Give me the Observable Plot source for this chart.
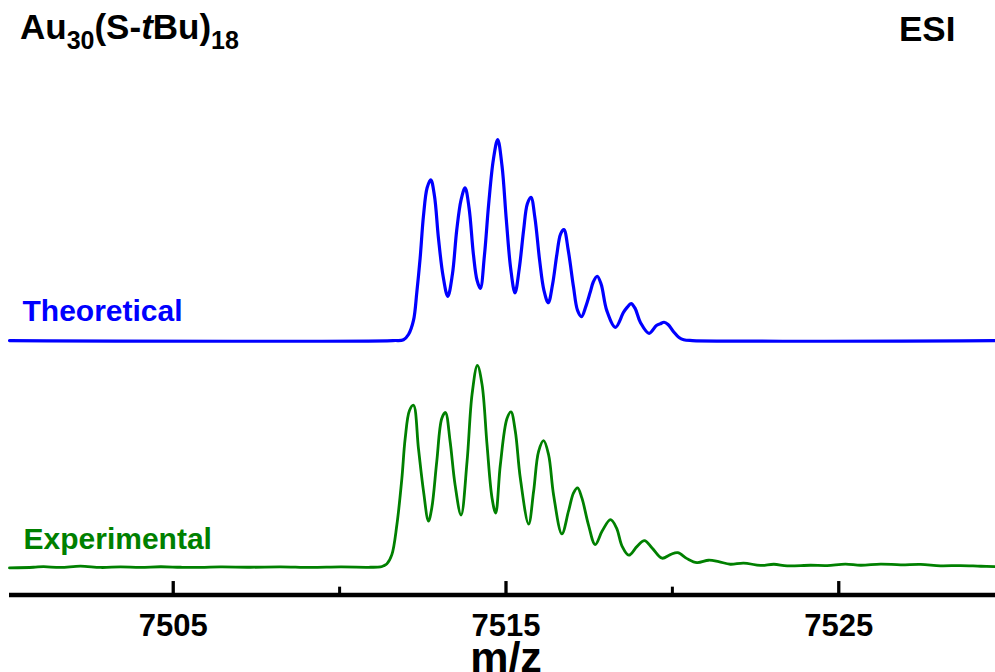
<!DOCTYPE html>
<html><head><meta charset="utf-8">
<script src="https://cdn.jsdelivr.net/npm/d3@7"></script>
<script src="https://cdn.jsdelivr.net/npm/@observablehq/plot@0.6"></script>
<style>
html,body{margin:0;padding:0;background:#fff;overflow:hidden}
#chart svg{display:block}
</style></head><body><div id="chart"></div>
<script>
// Theoretical isotope pattern (m/z, relative intensity)
const theoMz = [7500.08,7511.6,7511.92,7512.07,7512.22,7512.32,7512.42,7512.52,7512.63,7512.74,7512.85,7512.97,7513.11,7513.25,7513.39,7513.52,7513.65,7513.77,7513.89,7514.02,7514.13,7514.23,7514.35,7514.48,7514.62,7514.75,7514.88,7515.01,7515.14,7515.27,7515.40,7515.53,7515.64,7515.75,7515.87,7516.01,7516.14,7516.27,7516.40,7516.53,7516.64,7516.74,7516.87,7517.03,7517.15,7517.27,7517.40,7517.53,7517.62,7517.74,7517.86,7518.03,7518.29,7518.53,7518.64,7518.76,7518.88,7519.04,7519.30,7519.52,7519.63,7519.75,7519.87,7520.03,7520.20,7520.34,7520.6,7529.71];
const theoIntensity = [0,0,0.4,3,10,24,41,62,76,80,72,51,32,22,33,55,70,76,66,43,30,26,42,68,90,100,87,60,36,23.7,36,55,68,71.3,61,40,25,18.8,28,43,53,55.2,45,26.5,15,11.9,17,24,29,32,28,14.9,6.6,14,16.5,18.4,16,9,3.6,7.5,8.3,9.1,8,4.5,1.5,0.4,0,0];

// Experimental spectrum (m/z, relative intensity)
const expMz = [7500.08,7500.80,7501.10,7501.61,7502.21,7502.82,7503.42,7504.02,7504.62,7505.22,7505.82,7506.42,7507.32,7508.23,7509.13,7510.03,7510.93,7511.23,7511.33,7511.42,7511.57,7511.72,7511.87,7511.97,7512.10,7512.22,7512.37,7512.52,7512.67,7512.77,7512.92,7513.07,7513.18,7513.32,7513.47,7513.65,7513.83,7513.98,7514.14,7514.28,7514.43,7514.58,7514.69,7514.83,7515.03,7515.15,7515.28,7515.43,7515.68,7515.83,7515.98,7516.13,7516.28,7516.43,7516.68,7516.88,7517.03,7517.15,7517.28,7517.48,7517.68,7517.89,7518.14,7518.32,7518.49,7518.69,7518.94,7519.16,7519.39,7519.69,7519.94,7520.16,7520.44,7520.74,7521.09,7521.39,7521.74,7522.14,7522.65,7523.05,7523.45,7524.15,7524.65,7525.2,7525.66,7526.26,7526.86,7527.46,7528.06,7528.66,7529.27,7529.71];
const expIntensity = [-0.3,0,0.3,-0.1,0.6,-0.1,0.15,-0.1,0.25,0,-0.1,0.15,0,0.2,-0.1,0.15,0,0.2,0.8,1.7,6.3,21,44,64,78,80.6,59,38,23,29.5,52.7,74,77,62.7,41,26,52.7,86,100.5,91,61,34.5,27,51,74,77.3,67.7,44.4,21.5,37.8,57.7,63,56,36,16.6,28,37,39.5,34.5,21,11.3,18,23.7,19.6,10.4,6,10.4,13.3,9.6,4.5,6.3,7.3,4.3,2.3,3.5,2.8,1.5,2.1,0.9,1.5,0.7,1.0,0.85,1.6,1.0,1.6,1.2,1.4,0.7,0.85,0.5,0.35];

const majorTicks = [7505, 7515, 7525];
const minorTicks = [7510, 7520];
const seriesLabels = ["Theoretical", "Experimental"];
const axisLabel = "m/z";

// vertical stacking offsets (layout)
const theoOffset = 126.6, expOffset = 13.8;
const theo = theoMz.map((mz, i) => ({mz, y: theoIntensity[i] + theoOffset}));
const expt = expMz.map((mz, i) => ({mz, y: expIntensity[i] + expOffset}));

const font = "'Liberation Sans', Arial, Helvetica, sans-serif";
const blue = "#0000ff", green = "#008000";

const chart = Plot.plot({
  width: 995, height: 672,
  marginLeft: 9, marginRight: 0, marginTop: 0, marginBottom: 77.5,
  x: {domain: [7500.08, 7529.71], axis: null},
  y: {domain: [0, 295.8], axis: null},
  style: {fontFamily: font, background: "white"},
  marks: [
    Plot.line(theo, {x: "mz", y: "y", stroke: blue, strokeWidth: 3.2, curve: "catmull-rom"}),
    Plot.line(expt, {x: "mz", y: "y", stroke: green, strokeWidth: 2.8, curve: "catmull-rom"}),
    Plot.ruleY([0], {stroke: "black", strokeWidth: 4.5}),
    Plot.ruleX(majorTicks, {y1: 0, y2: 6.7, stroke: "black", strokeWidth: 3.3}),
    Plot.ruleX(minorTicks, {y1: 0, y2: 3.9, stroke: "black", strokeWidth: 3}),
    Plot.text(majorTicks, {x: d => d, text: d => String(d), frameAnchor: "bottom", dy: 40.5, lineAnchor: "bottom", fontSize: 31, fontWeight: "bold", fill: "black"}),
    Plot.text([axisLabel], {text: d => d, frameAnchor: "bottom", dx: 3.5, dy: 77, lineAnchor: "bottom", fontSize: 43, fontWeight: "bold", fill: "black"}),
    Plot.text([seriesLabels[0]], {text: d => d, frameAnchor: "top-left", textAnchor: "start", dx: 13, dy: 320, lineAnchor: "bottom", fontSize: 30, fontWeight: "bold", fill: blue}),
    Plot.text([seriesLabels[1]], {text: d => d, frameAnchor: "top-left", textAnchor: "start", dx: 14, dy: 548.3, lineAnchor: "bottom", fontSize: 30, fontWeight: "bold", fill: green})
  ]
});

const svg = d3.select(chart);
const t = svg.append("text").attr("x", 20).attr("y", 39.3).attr("text-anchor", "start")
  .attr("font-family", font).attr("font-weight", "bold").attr("font-size", 35).attr("fill", "black");
t.append("tspan").text("Au");
t.append("tspan").attr("font-size", 25).attr("dy", 10).text("30");
t.append("tspan").attr("dy", -10).text("(S-");
t.append("tspan").attr("font-style", "italic").text("t");
t.append("tspan").text("Bu)");
t.append("tspan").attr("font-size", 25).attr("dy", 10).text("18");
svg.append("text").attr("x", 899).attr("y", 40.7).attr("text-anchor", "start")
  .attr("font-family", font).attr("font-weight", "bold").attr("font-size", 35).attr("fill", "black").text("ESI");

document.getElementById("chart").appendChild(chart);
</script></body></html>
